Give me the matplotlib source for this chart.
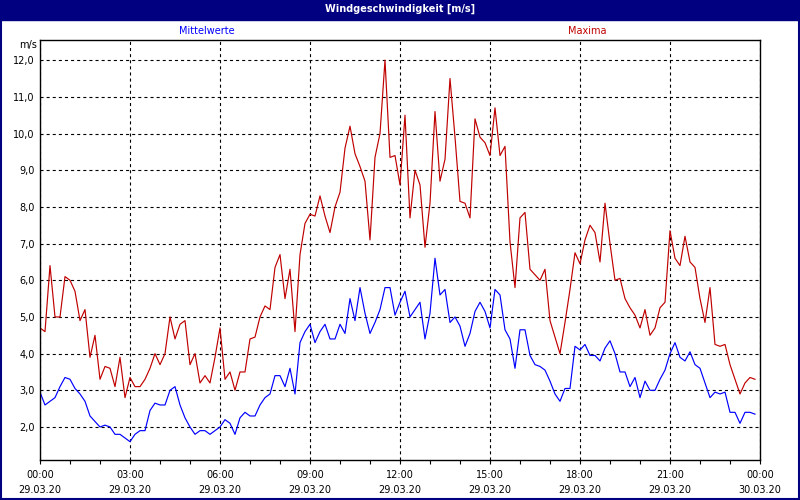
import numpy as np
import matplotlib
matplotlib.use('Agg')
import matplotlib.pyplot as plt
from matplotlib.patches import Rectangle

# 10-minute values, 29.03.20 00:00 .. 23:50
maxima = [4.7, 4.6, 6.4, 5.0, 5.0, 6.1, 6.0, 5.7, 4.9, 5.2,
          3.9, 4.5, 3.3, 3.65, 3.6, 3.1, 3.9, 2.8, 3.35, 3.1,
          3.1, 3.3, 3.6, 4.0, 3.7, 4.0, 5.0, 4.4, 4.8, 4.9,
          3.7, 4.0, 3.2, 3.4, 3.2, 3.9, 4.7, 3.3, 3.5, 3.0,
          3.5, 3.5, 4.4, 4.45, 5.0, 5.3, 5.2, 6.35, 6.7, 5.5,
          6.3, 4.6, 6.7, 7.55, 7.8, 7.75, 8.3, 7.75, 7.3, 8.0,
          8.4, 9.6, 10.2, 9.45, 9.1, 8.7, 7.1, 9.35, 10.0, 12.0,
          9.35, 9.4, 8.6, 10.5, 7.7, 9.0, 8.6, 6.9, 8.1, 10.6,
          8.7, 9.3, 11.5, 9.9, 8.15, 8.1, 7.7, 10.4, 9.9, 9.75,
          9.4, 10.7, 9.4, 9.65, 7.05, 5.8, 7.7, 7.85, 6.3, 6.15,
          6.0, 6.3, 4.9, 4.45, 4.0, 4.85, 5.75, 6.75, 6.45, 7.1,
          7.5, 7.3, 6.5, 8.1, 7.0, 6.0, 6.05, 5.5, 5.25, 5.05,
          4.7, 5.2, 4.5, 4.7, 5.25, 5.4, 7.35, 6.6, 6.4, 7.2,
          6.5, 6.35, 5.5, 4.85, 5.8, 4.25, 4.2, 4.25, 3.7, 3.3,
          2.9, 3.2, 3.35, 3.3]
mittel = [2.95, 2.6, 2.7, 2.8, 3.1, 3.35, 3.3, 3.05, 2.9, 2.7,
          2.3, 2.15, 2.0, 2.05, 2.0, 1.8, 1.8, 1.7, 1.6, 1.8,
          1.9, 1.9, 2.45, 2.65, 2.6, 2.6, 3.0, 3.1, 2.6, 2.25,
          2.0, 1.8, 1.9, 1.9, 1.8, 1.9, 2.0, 2.2, 2.1, 1.8,
          2.25, 2.4, 2.3, 2.3, 2.6, 2.8, 2.9, 3.4, 3.4, 3.1,
          3.6, 2.9, 4.3, 4.6, 4.8, 4.3, 4.6, 4.8, 4.4, 4.4,
          4.8, 4.55, 5.5, 4.9, 5.8, 5.1, 4.55, 4.85, 5.2, 5.8,
          5.8, 5.05, 5.4, 5.7, 5.0, 5.2, 5.4, 4.4, 5.1, 6.6,
          5.6, 5.75, 4.85, 5.0, 4.75, 4.2, 4.55, 5.15, 5.4, 5.15,
          4.7, 5.75, 5.6, 4.65, 4.4, 3.6, 4.65, 4.65, 3.95, 3.7,
          3.65, 3.55, 3.25, 2.9, 2.7, 3.05, 3.05, 4.2, 4.1, 4.25,
          3.95, 3.95, 3.8, 4.15, 4.35, 4.0, 3.5, 3.5, 3.1, 3.35,
          2.8, 3.25, 3.0, 3.0, 3.3, 3.55, 4.0, 4.3, 3.9, 3.8,
          4.05, 3.7, 3.6, 3.2, 2.8, 2.95, 2.9, 2.95, 2.4, 2.4,
          2.1, 2.4, 2.4, 2.35]

x_ticks = [0, 3, 6, 9, 12, 15, 18, 21, 24]
x_labels = ['00:00\n29.03.20', '03:00\n29.03.20', '06:00\n29.03.20',
            '09:00\n29.03.20', '12:00\n29.03.20', '15:00\n29.03.20',
            '18:00\n29.03.20', '21:00\n29.03.20', '00:00\n30.03.20']
y_ticks = [2, 3, 4, 5, 6, 7, 8, 9, 10, 11, 12]
y_labels = ['2,0', '3,0', '4,0', '5,0', '6,0', '7,0', '8,0', '9,0',
            '10,0', '11,0', '12,0']

hours = np.arange(len(maxima)) / 6.0

plt.rcParams['lines.scale_dashes'] = False
plt.rcParams['font.family'] = 'DejaVu Sans'

fig = plt.figure(figsize=(8, 5), dpi=100)
fig.patch.set_facecolor('white')
ax = fig.add_axes([0.05, 0.08, 0.90, 0.84])

ax.plot(hours, maxima, color='#c00000', lw=0.85)
ax.plot(hours, mittel, color='#0000ff', lw=0.85)

ax.set_xlim(0, 24)
ax.set_ylim(1.1, 12.55)
ax.set_xticks(x_ticks)
ax.set_xticklabels(x_labels, fontsize=7, linespacing=1.6)
ax.set_xticks(np.arange(0, 25, 1), minor=True)
ax.set_yticks(y_ticks)
ax.set_yticklabels(y_labels, fontsize=7)
ax.tick_params(axis='x', which='both', direction='out', length=3, width=0.8, pad=4)
ax.tick_params(axis='y', length=0, pad=4)
ax.grid(True, which='major', color='black', lw=0.8, linestyle=(0, (2.2, 2.2)))
for s in ax.spines.values():
    s.set_linewidth(1.0)
    s.set_color('black')

# title bar and frame
fig.patches.append(Rectangle((0, 0.96), 1, 0.04, transform=fig.transFigure,
                             color='#000080', zorder=0))
fig.patches.append(Rectangle((0.001, 0.002), 0.998, 0.997, transform=fig.transFigure,
                             fill=False, edgecolor='#000080', lw=1.5))
fig.text(0.5, 0.982, 'Windgeschwindigkeit [m/s]', color='white', fontsize=7,
         fontweight='bold', ha='center', va='center')
fig.text(207 / 800, 1 - 31 / 500, 'Mittelwerte', color='#0000ff', fontsize=7,
         ha='center', va='center')
fig.text(587 / 800, 1 - 31 / 500, 'Maxima', color='#c00000', fontsize=7,
         ha='center', va='center')
fig.text(28 / 800, 1 - 45 / 500, 'm/s', color='black', fontsize=7,
         ha='center', va='center')

plt.savefig('out.png', dpi=100)
